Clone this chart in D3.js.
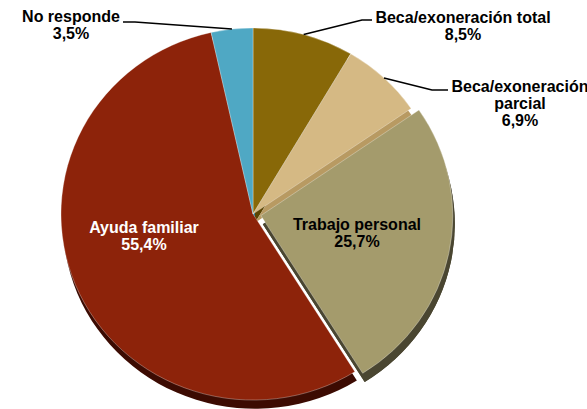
<!DOCTYPE html>
<html>
<head>
<meta charset="utf-8">
<script src="https://cdn.jsdelivr.net/npm/d3@7"></script>
<style>
  html, body { margin: 0; padding: 0; background: #fff; }
  svg { display: block; font-family: "Liberation Sans", Arial, sans-serif; }
</style>
</head>
<body>
<div id="chart"></div>
<script>
// datos del gráfico (en sentido horario desde las 12)
const categorias = ['Beca/exoneración total', 'Beca/exoneración parcial', 'Trabajo personal', 'Ayuda familiar', 'No responde'];
const valores    = [8.5, 6.9, 25.7, 55.4, 3.5];
const etiquetas  = [['Beca/exoneración total', '8,5%'], ['Beca/exoneración', 'parcial', '6,9%'], ['Trabajo personal', '25,7%'], ['Ayuda familiar', '55,4%'], ['No responde', '3,5%']];

const colores  = ['#886808', '#d5b984', '#a49b6c', '#8d230a', '#4fa8c4'];
const sombras  = ['#5a4503', '#b89a62', '#4a4631', '#3c0b02', '#2e7c96'];
const separado = [0, 0, 8, 0, 0];

const width = 587, height = 409;
const cx = 253, cy = 214, r = 192, escalaY = 0.969;
const prof = [2, 9];

// posiciones de las etiquetas (x centro, y primera línea) y líneas guía
const layout = [
  { x: 463, y: 23, color: '#000', guia: [[372, 20], [362, 20]] },
  { x: 520, y: 92, color: '#000', guia: [[448, 90], [432, 90]] },
  { x: 357, y: 230, color: '#000', guia: null },
  { x: 144, y: 233, color: '#fff', guia: null },
  { x: 71, y: 22, color: '#000', guia: [[123, 22], [135, 22]] }
];

const svg = d3.select('#chart')
  .append('svg')
  .attr('width', width)
  .attr('height', height);

const pie = d3.pie().sort(null).value(d => d)(valores);
const arc = d3.arc().innerRadius(0).outerRadius(r);

const g = svg.append('g')
  .attr('transform', `translate(${cx},${cy}) scale(1,${escalaY})`);

function desplaz(d, i){
  const a = (d.startAngle + d.endAngle) / 2;
  return [Math.sin(a) * separado[i], -Math.cos(a) * separado[i]];
}

// orden de dibujo: la porción separada al final
const orden = [0, 1, 3, 4, 2];

// caras laterales (profundidad)
orden.forEach(i => {
  const d = pie[i];
  const o = desplaz(d, i);
  g.append('path')
    .attr('d', arc(d))
    .attr('transform', `translate(${o[0] + prof[0]},${o[1] + prof[1]})`)
    .attr('fill', sombras[i]);
});

// caras superiores
orden.forEach(i => {
  const d = pie[i];
  const o = desplaz(d, i);
  if (separado[i]) {
    g.append('path')
      .attr('d', arc(d))
      .attr('transform', `translate(${o[0] + prof[0]},${o[1] + prof[1]})`)
      .attr('fill', sombras[i]);
  }
  g.append('path')
    .attr('d', arc(d))
    .attr('transform', `translate(${o[0]},${o[1]})`)
    .attr('fill', colores[i])
    .attr('stroke', 'rgba(255,255,255,0.45)')
    .attr('stroke-width', 0.7);
});

// líneas guía desde el borde de la porción
pie.forEach((d, i) => {
  const L = layout[i];
  if (!L.guia) return;
  const a = (d.startAngle + d.endAngle) / 2;
  const p = [cx + Math.sin(a) * r, cy - Math.cos(a) * r * escalaY];
  svg.append('path')
    .attr('d', d3.line()([L.guia[0], L.guia[1], p]))
    .attr('fill', 'none')
    .attr('stroke', '#000')
    .attr('stroke-width', 1.6);
});

// etiquetas
etiquetas.forEach((lineas, i) => {
  const L = layout[i];
  const t = svg.append('text')
    .attr('text-anchor', 'middle')
    .attr('font-size', 16)
    .attr('font-weight', 'bold')
    .attr('fill', L.color);
  lineas.forEach((s, k) => {
    t.append('tspan')
      .attr('x', L.x)
      .attr('y', L.y + k * 17)
      .text(s);
  });
});
</script>
</body>
</html>
